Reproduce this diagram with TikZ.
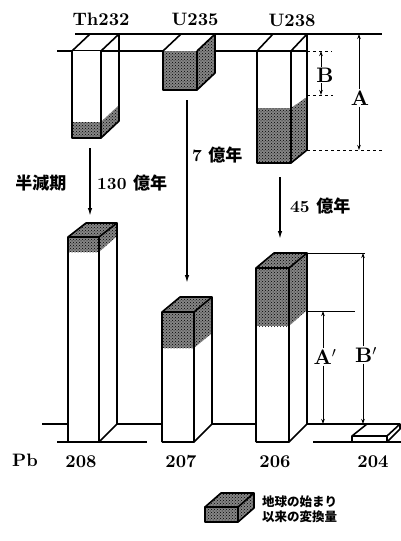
\documentclass[tikz,border=0pt]{standalone}
\usepackage{fontspec}
\newfontfamily\cjk{Noto Sans CJK JP}
\newfontfamily\lbf{lmroman10-bold.otf}
\usetikzlibrary{patterns,arrows.meta}
\begin{document}
\begin{tikzpicture}[x=1pt,y=-1pt,
  edge/.style={line width=1.6pt,line join=round},
  thin/.style={line width=1pt},
  shd/.style={fill=black!48,postaction={pattern=crosshatch dots}},
  lbl/.style={inner sep=0pt,font=\lbf\fontsize{18}{18}\selectfont},
  jlbl/.style={inner sep=0pt,font=\lbf\fontsize{17}{17}\selectfont},
  dimlbl/.style={inner sep=1pt,fill=white,font=\lbf\fontsize{21}{21}\selectfont},
  mainarrow/.style={line width=1.4pt,-{Latex[length=8pt,width=4.5pt]}},
  dimarrow/.style={line width=1pt,-{Stealth[length=5pt,width=3.5pt]}}]
\useasboundingbox (0,0) rectangle (401,541);
\fill[white] (0,0) rectangle (401,541);

% ---------- top reference lines ----------
\draw[edge] (75,34) -- (382,34);
\draw[edge] (57,51) -- (163,51);
\draw[edge] (197,51) -- (307,51);
\draw[thin,dashed] (307,51) -- (332,51);

% ---------- Th232 box ----------
\fill[white] (72,51) rectangle (101,138);
\fill[shd] (72,122) rectangle (101,138);
\fill[shd] (101,122) -- (119,105) -- (119,121) -- (101,138) -- cycle;
\draw[edge] (72,51) -- (72,138) -- (101,138) -- (101,51);
\draw[edge] (101,138) -- (119,121) -- (119,34);
\draw[edge] (72,51) -- (90,34);
\draw[edge] (101,51) -- (119,34);

% ---------- U235 box ----------
\fill[shd] (163,51) rectangle (197,90);
\fill[shd] (197,51) -- (215,34) -- (215,73) -- (197,90) -- cycle;
\draw[edge] (163,51) -- (163,90) -- (197,90) -- (197,51);
\draw[edge] (197,90) -- (215,73) -- (215,34);
\draw[edge] (163,51) -- (181,34);
\draw[edge] (197,51) -- (215,34);

% ---------- U238 box ----------
\fill[shd] (257,108) rectangle (291,163);
\fill[shd] (291,108) -- (307,97) -- (307,150) -- (291,163) -- cycle;
\draw[edge] (257,51) -- (257,163) -- (291,163) -- (291,51);
\draw[edge] (291,163) -- (307,150) -- (307,34);
\draw[edge] (257,51) -- (273,34);
\draw[edge] (291,51) -- (307,34);

% dimension B and A
\draw[thin,dashed] (307,95) -- (333,95);
\draw[thin,dashed] (307,150) -- (382,150);
\coordinate (Btop) at (321,51);
\coordinate (Bbot) at (321,95);
\coordinate (Atop) at (359,34);
\coordinate (Abot) at (359,150);
\node[dimlbl] (B) at (325,75) {B};
\node[dimlbl] (A) at (360,98) {A};
\draw[dimarrow] (B.north -| Btop) -- (Btop);
\draw[dimarrow] (B.south -| Bbot) -- (Bbot);
\draw[dimarrow] (A.north -| Atop) -- (Atop);
\draw[dimarrow] (A.south -| Abot) -- (Abot);

% ---------- titles ----------
\node[lbl] (th) at (101,19) {Th232};
\node[lbl] (u5) at (195,19) {U235};
\node[lbl] (u8) at (292,20) {U238};

% ---------- decay arrows ----------
\coordinate (a1s) at (90,148);
\coordinate (a1e) at (90,216);
\coordinate (a2s) at (187,100);
\coordinate (a2e) at (187,283);
\coordinate (a3s) at (280,177);
\coordinate (a3e) at (280,239);
\draw[mainarrow] (a1s) -- (a1e);
\draw[mainarrow] (a2s) -- (a2e);
\draw[mainarrow] (a3s) -- (a3e);
\node[jlbl] (hl) at (41,183) {\cjk\bfseries 半減期};
\node[jlbl,anchor=west] (t1) at (97,183) {130 {\cjk\bfseries 億年}};
\node[jlbl,anchor=west] (t2) at (192,155) {7 {\cjk\bfseries 億年}};
\node[jlbl,anchor=west] (t3) at (290,206) {45 {\cjk\bfseries 億年}};

% ---------- bottom base lines ----------
\draw[edge] (42,424) -- (68,424);
\draw[edge] (117,424) -- (162,424);
\draw[edge] (212,424) -- (256,424);
\draw[edge] (307,424) -- (367,424);
\draw[edge] (57,442) -- (147,442);
\draw[edge] (313,442) -- (401,442);

% ---------- bar 208 ----------
\fill[white] (68,237) rectangle (99,442);
\fill[white] (99,237) -- (117,223) -- (117,424) -- (99,442) -- cycle;
\fill[shd] (68,237) rectangle (99,252);
\fill[shd] (68,237) -- (86,223) -- (117,223) -- (99,237) -- cycle;
\fill[shd] (99,237) -- (117,223) -- (117,236) -- (99,252) -- cycle;
\draw[edge] (68,442) -- (68,237) -- (86,223) -- (117,223) -- (99,237) -- (68,237);
\draw[edge] (99,237) -- (99,442) -- (68,442);
\draw[edge] (117,223) -- (117,424) -- (99,442);

% ---------- bar 207 ----------
\fill[white] (162,312) rectangle (194,442);
\fill[white] (194,312) -- (212,297) -- (212,424) -- (194,442) -- cycle;
\fill[shd] (162,312) rectangle (194,348);
\fill[shd] (162,312) -- (180,297) -- (212,297) -- (194,312) -- cycle;
\fill[shd] (194,312) -- (212,297) -- (212,333) -- (194,348) -- cycle;
\draw[edge] (162,442) -- (162,312) -- (180,297) -- (212,297) -- (194,312) -- (162,312);
\draw[edge] (194,312) -- (194,442) -- (162,442);
\draw[edge] (212,297) -- (212,424) -- (194,442);

% ---------- bar 206 ----------
\fill[white] (256,268) rectangle (289,442);
\fill[white] (289,268) -- (307,253) -- (307,424) -- (289,442) -- cycle;
\fill[shd] (256,268) rectangle (289,326);
\fill[shd] (256,268) -- (274,253) -- (307,253) -- (289,268) -- cycle;
\fill[shd] (289,268) -- (307,253) -- (307,310) -- (289,326) -- cycle;
\draw[edge] (256,442) -- (256,268) -- (274,253) -- (307,253) -- (289,268) -- (256,268);
\draw[edge] (289,268) -- (289,442) -- (256,442);
\draw[edge] (307,253) -- (307,424) -- (289,442);

% ---------- slab 204 ----------
\fill[white] (352,436) -- (367,424) -- (400,424) -- (400,429) -- (387,442) -- (352,442) -- cycle;
\draw[edge] (352,442) -- (352,436) -- (367,424) -- (400,424) -- (387,436) -- (352,436);
\draw[edge] (387,436) -- (387,442) -- (352,442);
\draw[edge] (400,424) -- (400,429) -- (387,442);

% dimension A' and B'
\draw[thin] (307,311) -- (355,311);
\draw[thin] (307,253) -- (365,253);
\coordinate (Aptop) at (323,311);
\coordinate (Apbot) at (323,424);
\coordinate (Bptop) at (363,253);
\coordinate (Bpbot) at (363,424);
\node[dimlbl] (Ap) at (325,357) {A$'$};
\node[dimlbl] (Bp) at (366,355) {B$'$};
\draw[dimarrow] (Ap.north -| Aptop) -- (Aptop);
\draw[dimarrow] (Ap.south -| Apbot) -- (Apbot);
\draw[dimarrow] (Bp.north -| Bptop) -- (Bptop);
\draw[dimarrow] (Bp.south -| Bpbot) -- (Bpbot);

% ---------- bottom labels ----------
\node[lbl] (pb) at (25,460) {Pb};
\node[lbl] (n208) at (81,462) {208};
\node[lbl] (n207) at (181,462) {207};
\node[lbl] (n206) at (275,462) {206};
\node[lbl] (n204) at (373,462) {204};

% ---------- legend ----------
\fill[shd] (205,507) rectangle (238,522);
\fill[shd] (205,507) -- (221,493) -- (254,493) -- (238,507) -- cycle;
\fill[shd] (238,507) -- (254,493) -- (254,508) -- (238,522) -- cycle;
\draw[edge] (205,507) rectangle (238,522);
\draw[edge] (205,507) -- (221,493) -- (254,493) -- (238,507);
\draw[edge] (254,493) -- (254,508) -- (238,522);
\node[inner sep=0pt,anchor=west,align=left,font=\cjk\bfseries\fontsize{12.5}{15}\selectfont] (leg) at (262,509) {地球の始まり\\以来の変換量};
\end{tikzpicture}
\end{document}
